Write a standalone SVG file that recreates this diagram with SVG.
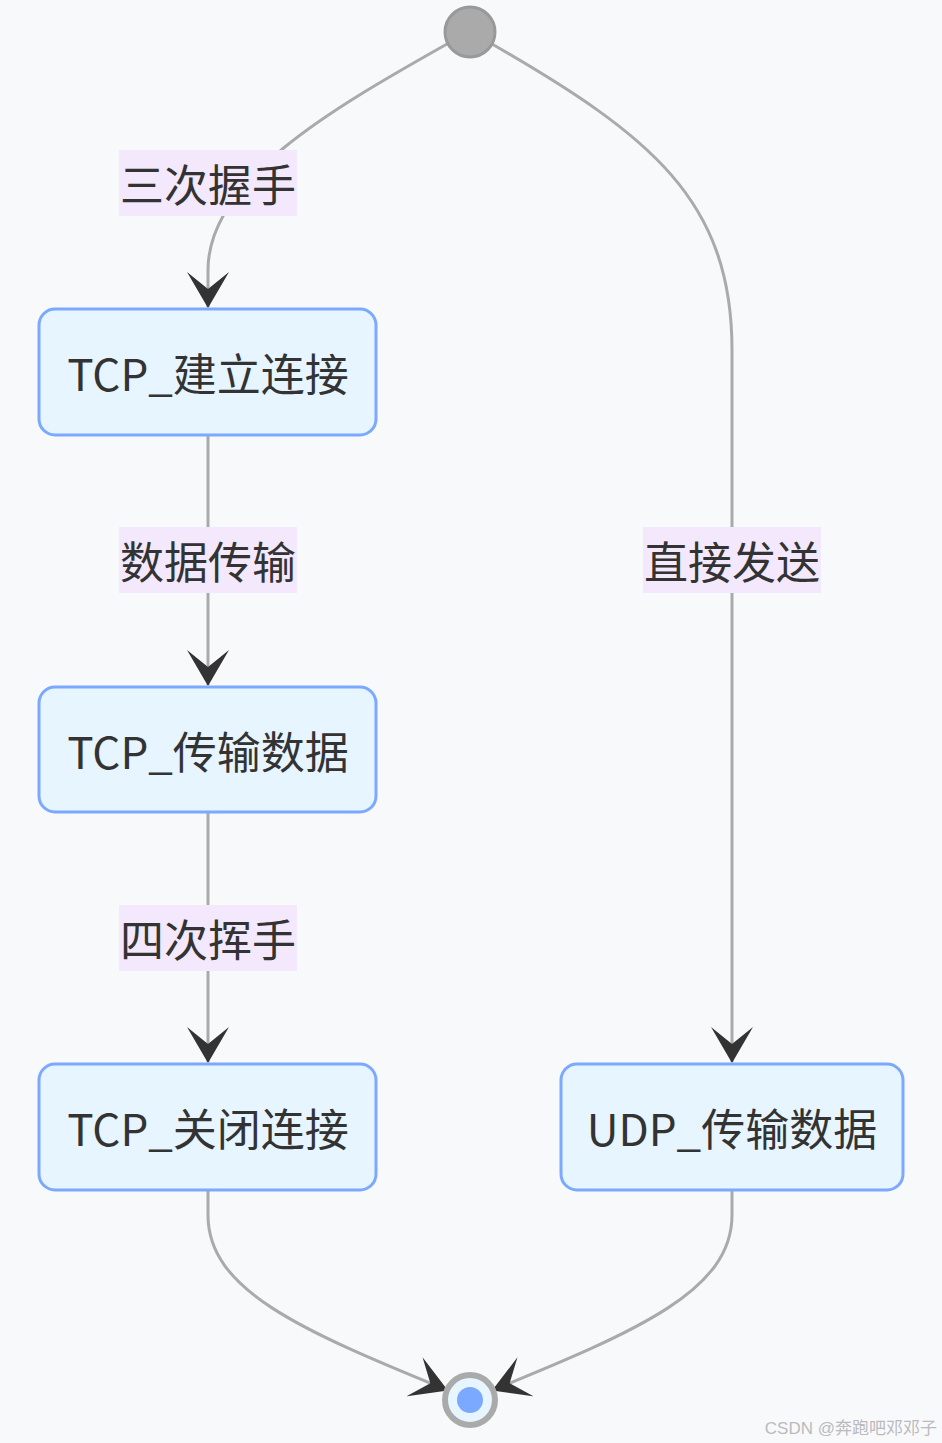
<svg xmlns="http://www.w3.org/2000/svg" width="942" height="1443" viewBox="0 0 942 1443">
<style>
.edge{fill:none;stroke:#aaaaaa;stroke-width:3;marker-end:url(#arr)}
.node rect{fill:#e6f5ff;stroke:#7aa9ff;stroke-width:3}
.txt{font-family:"Noto Sans CJK SC","Noto Sans",sans-serif;font-size:44px;fill:#333333;text-anchor:middle;dominant-baseline:central}
.lbl rect{fill:#f3e8fc}
</style>
<defs>
<marker id="arr" viewBox="0 0 36 42" refX="35" refY="21" markerWidth="36" markerHeight="42" markerUnits="userSpaceOnUse" orient="auto">
<path d="M0,0 L36,21 L0,42 L17,21 z" fill="#333333"/>
</marker>
</defs>
<rect width="942" height="1443" fill="#f8f9fb"/>
<g id="edges">
<path class="edge" d="M447,44 C330,110 208,180 208,270 L208,307"/>
<path class="edge" d="M492,44 C650,135 732,200 732,350 L732,1062"/>
<path class="edge" d="M208,436 L208,685"/>
<path class="edge" d="M208,813 L208,1062"/>
<path class="edge" d="M208,1191 L208,1215 C208,1290 300,1330 447,1390"/>
<path class="edge" d="M732,1191 L732,1215 C732,1290 640,1330 493,1390"/>
</g>
<g id="edge-labels">
<g class="lbl" id="lbl1"><rect x="119" y="150" width="178" height="66"/><text class="txt" x="208" y="183">三次握手</text></g>
<g class="lbl" id="lbl2"><rect x="119" y="527" width="178" height="66"/><text class="txt" x="208" y="560">数据传输</text></g>
<g class="lbl" id="lbl3"><rect x="119" y="905" width="178" height="66"/><text class="txt" x="208" y="938">四次挥手</text></g>
<g class="lbl" id="lbl4"><rect x="643" y="527" width="178" height="66"/><text class="txt" x="732" y="560">直接发送</text></g>
</g>
<g id="start"><circle cx="470" cy="32" r="25" fill="#aaaaaa" stroke="#999999" stroke-width="3"/></g>
<g id="n1" class="node"><rect x="39" y="309" width="337" height="126" rx="16"/><text class="txt" x="208" y="372">TCP_建立连接</text></g>
<g id="n2" class="node"><rect x="39" y="687" width="337" height="125" rx="16"/><text class="txt" x="208" y="750">TCP_传输数据</text></g>
<g id="n3" class="node"><rect x="39" y="1064" width="337" height="126" rx="16"/><text class="txt" x="208" y="1127">TCP_关闭连接</text></g>
<g id="n4" class="node"><rect x="561" y="1064" width="342" height="126" rx="16"/><text class="txt" x="732" y="1127">UDP_传输数据</text></g>
<g id="end"><circle cx="470" cy="1400" r="25" fill="#e6f5ff" stroke="#aaaaaa" stroke-width="6"/><circle cx="470" cy="1400" r="13" fill="#7aa9ff"/></g>
<text x="937" y="1434" font-family="'Liberation Sans','Noto Sans CJK SC',sans-serif" font-size="17" fill="#bbbbbb" text-anchor="end">CSDN @奔跑吧邓邓子</text>
</svg>
